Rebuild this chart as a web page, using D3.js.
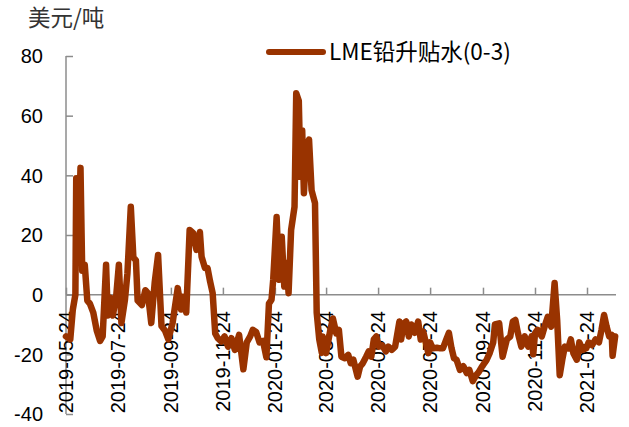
<!DOCTYPE html>
<html><head><meta charset="utf-8">
<script src="https://cdn.jsdelivr.net/npm/d3@7"></script>
<style>html,body{margin:0;padding:0;background:#fff;}svg{display:block;}</style>
</head><body>
<svg id="chart" width="629" height="427"></svg>
<script>
const dates = ["2019-05-24","2019-05-29","2019-06-01","2019-06-04","2019-06-05","2019-06-07","2019-06-10","2019-06-12","2019-06-15","2019-06-18","2019-06-21","2019-06-25","2019-06-29","2019-07-03","2019-07-06","2019-07-10","2019-07-12","2019-07-15","2019-07-18","2019-07-22","2019-07-25","2019-07-28","2019-08-01","2019-08-04","2019-08-08","2019-08-11","2019-08-14","2019-08-16","2019-08-21","2019-08-25","2019-08-28","2019-09-01","2019-09-05","2019-09-09","2019-09-13","2019-09-17","2019-09-21","2019-09-26","2019-10-02","2019-10-06","2019-10-08","2019-10-12","2019-10-16","2019-10-20","2019-10-24","2019-10-28","2019-10-30","2019-11-03","2019-11-06","2019-11-09","2019-11-12","2019-11-15","2019-11-18","2019-11-22","2019-11-26","2019-11-30","2019-12-04","2019-12-08","2019-12-13","2019-12-18","2019-12-22","2019-12-26","2019-12-29","2020-01-02","2020-01-06","2020-01-10","2020-01-14","2020-01-17","2020-01-20","2020-01-22","2020-01-26","2020-01-29","2020-02-01","2020-02-04","2020-02-07","2020-02-09","2020-02-12","2020-02-16","2020-02-18","2020-02-21","2020-02-23","2020-02-25","2020-02-27","2020-03-01","2020-03-04","2020-03-07","2020-03-11","2020-03-13","2020-03-16","2020-03-19","2020-03-20","2020-03-24","2020-03-29","2020-04-01","2020-04-05","2020-04-08","2020-04-11","2020-04-15","2020-04-19","2020-04-22","2020-04-25","2020-04-28","2020-04-30","2020-05-03","2020-05-06","2020-05-10","2020-05-13","2020-05-16","2020-05-19","2020-05-22","2020-05-25","2020-05-29","2020-06-02","2020-06-05","2020-06-09","2020-06-13","2020-06-15","2020-06-18","2020-06-20","2020-06-23","2020-06-26","2020-06-29","2020-07-02","2020-07-06","2020-07-10","2020-07-13","2020-07-16","2020-07-19","2020-07-22","2020-07-24","2020-07-27","2020-08-01","2020-08-05","2020-08-08","2020-08-12","2020-08-15","2020-08-18","2020-08-21","2020-08-24","2020-08-28","2020-09-01","2020-09-05","2020-09-08","2020-09-12","2020-09-16","2020-09-19","2020-09-23","2020-09-28","2020-10-02","2020-10-06","2020-10-08","2020-10-13","2020-10-17","2020-10-22","2020-10-26","2020-10-29","2020-11-01","2020-11-04","2020-11-08","2020-11-12","2020-11-16","2020-11-20","2020-11-22","2020-11-24","2020-11-27","2020-12-02","2020-12-06","2020-12-09","2020-12-13","2020-12-17","2020-12-20","2020-12-23","2020-12-26","2020-12-29","2021-01-02","2021-01-05","2021-01-08","2021-01-12","2021-01-15","2021-01-19","2021-01-23","2021-01-26","2021-01-30","2021-02-03","2021-02-07","2021-02-10","2021-02-13","2021-02-16","2021-02-19","2021-02-22","2021-02-23","2021-02-26"];
const spread = [-14,-15,-5,0,39,11,42.5,8,10,-2,-3,-6,-12,-15.5,-14,10,-7,-1,-7,0,10,-9.5,-2,7,29.5,12.5,11.5,-2,-3.5,1.5,0.5,-9.5,4,13.3,-10.5,-12,-15,-9.5,2.2,-5,-0.7,-6,21.7,20.7,15,21,12.7,8.9,8.9,4.4,0.5,-13,-14.6,-15.7,-14,-17.4,-14.6,-18.5,-13.5,-25,-16,-14,-11.8,-12.5,-16,-15.5,-21,-3,-1.7,5,26,5,19.4,2.7,10.6,0.5,21.7,29.5,67.5,65,39.5,55,34,49.6,52,35,30.7,-6,-15,-19.5,-14,-19.6,-11.8,-8,-13,-11.8,-20.8,-21.3,-20.2,-23,-21.8,-25.2,-27.5,-24,-23,-20.8,-19,-20.8,-15,-14,-17.4,-17,-19,-17.4,-18.5,-17.4,-14,-9,-15,-9.6,-9,-14,-10,-12.8,-9,-15,-12.4,-16,-19.6,-16,-18,-17.8,-18,-18,-15,-12.8,-17.8,-21.3,-21.8,-25.2,-24,-26.3,-25.2,-29,-27,-26,-24,-22,-19.5,-16,-10,-9.6,-20.8,-15,-14,-9,-8.5,-12.9,-17.4,-14,-17.4,-14,-20,-12.9,-11.8,-14,-10,-7.4,-10.7,3.9,-8.5,-27,-21.8,-17.4,-18,-15,-19.6,-21.8,-16,-18.5,-18,-16,-16.9,-15,-16,-11.8,-6.8,-10.7,-14,-13.5,-20.5,-14];
const xTickLabels = ["2019-05-24","2019-07-24","2019-09-24","2019-11-24","2020-01-24","2020-03-24","2020-05-24","2020-07-24","2020-09-24","2020-11-24","2021-01-24"];
const yTicks = [-40,-20,0,20,40,60,80];
const seriesName = "LME铅升贴水(0-3)";
const unitLabel = "美元/吨";

const parse = d3.timeParse("%Y-%m-%d");
const data = dates.map((d,i)=>({date:parse(d), v:spread[i]}));

const svg = d3.select("#chart");
const x = d3.scaleTime().domain([parse("2019-05-24"), parse("2021-02-27")]).range([66, 616]);
const y = d3.scaleLinear().domain([-40, 80]).range([414, 56]);
const axisColor = "#8c8c8c";
const numFont = "'Liberation Sans', Arial, sans-serif";
const cjkFont = "'Noto Sans CJK SC', sans-serif";

// Y axis
const yAxis = svg.append("g").attr("transform","translate(66,0)")
  .call(d3.axisRight(y).tickValues(yTicks).tickSize(7).tickFormat(""));
yAxis.select(".domain").attr("stroke",axisColor).attr("stroke-width",1.5).attr("d","M0,56V414");
yAxis.selectAll(".tick line").attr("stroke",axisColor).attr("stroke-width",1.5);
svg.append("g").selectAll("text").data(yTicks).join("text")
  .attr("x",43).attr("y",d=>y(d)).attr("dy","0.36em")
  .attr("text-anchor","end").attr("font-family",numFont).attr("font-size",20).attr("fill","#000")
  .text(d=>d);

// X axis at zero
const xTickDates = xTickLabels.map(parse);
const xAxis = svg.append("g").attr("transform",`translate(0,${y(0)})`)
  .call(d3.axisTop(x).tickValues(xTickDates).tickSize(7).tickFormat(""));
xAxis.select(".domain").attr("stroke",axisColor).attr("stroke-width",1.5).attr("d","M66,0H616");
xAxis.selectAll(".tick line").attr("stroke",axisColor).attr("stroke-width",1.5);
svg.append("g").selectAll("text").data(xTickLabels).join("text")
  .attr("transform",d=>`translate(${x(parse(d))},311) rotate(-90)`)
  .attr("dy","0.36em").attr("text-anchor","end")
  .attr("font-family",numFont).attr("font-size",20).attr("fill","#000")
  .text(d=>d);

// Line
const line = d3.line().x(d=>x(d.date)).y(d=>y(d.v));
svg.append("path").datum(data).attr("d",line)
  .attr("fill","none").attr("stroke","#993300").attr("stroke-width",6.5)
  .attr("stroke-linejoin","round").attr("stroke-linecap","round");

// Unit label
svg.append("text").attr("x",28).attr("y",26).attr("font-family",cjkFont).attr("font-size",22.5)
  .attr("fill","#333").text(unitLabel);

// Legend
svg.append("line").attr("x1",269).attr("x2",323).attr("y1",52).attr("y2",52)
  .attr("stroke","#993300").attr("stroke-width",6).attr("stroke-linecap","round");
svg.append("text").attr("x",329).attr("y",52).attr("dy","0.36em")
  .attr("font-family",cjkFont).attr("font-size",22.5).attr("fill","#000").text(seriesName);
</script>
</body></html>
